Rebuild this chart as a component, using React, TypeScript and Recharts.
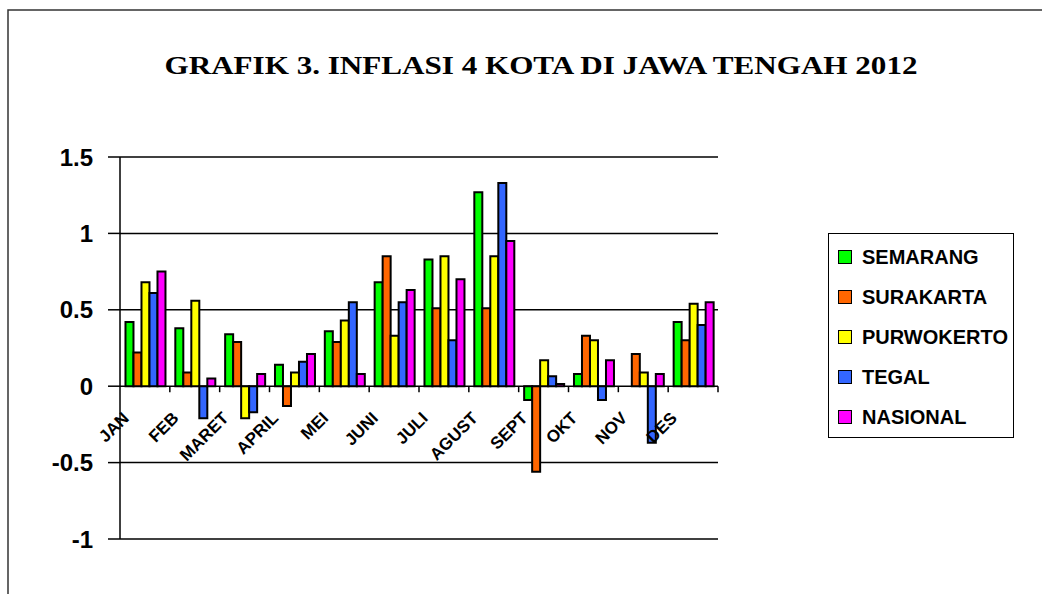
import React from "react";
import {
  BarChart,
  Bar,
  XAxis,
  YAxis,
  CartesianGrid,
  Legend,
} from "recharts";

const months = ["JAN", "FEB", "MARET", "APRIL", "MEI", "JUNI", "JULI", "AGUST", "SEPT", "OKT", "NOV", "DES"];
const semarang = [0.42, 0.38, 0.34, 0.14, 0.36, 0.68, 0.83, 1.27, -0.09, 0.08, 0, 0.42];
const surakarta = [0.22, 0.09, 0.29, -0.13, 0.29, 0.85, 0.51, 0.51, -0.56, 0.33, 0.21, 0.3];
const purwokerto = [0.68, 0.56, -0.21, 0.09, 0.43, 0.33, 0.85, 0.85, 0.17, 0.3, 0.09, 0.54];
const tegal = [0.61, -0.21, -0.17, 0.16, 0.55, 0.55, 0.3, 1.33, 0.065, -0.09, -0.37, 0.4];
const nasional = [0.75, 0.05, 0.08, 0.21, 0.08, 0.63, 0.7, 0.95, 0.015, 0.17, 0.08, 0.55];
const yTicks = [-1, -0.5, 0, 0.5, 1, 1.5];

const seriesNames = ["SEMARANG", "SURAKARTA", "PURWOKERTO", "TEGAL", "NASIONAL"];
const seriesColors = ["#00ff00", "#ff6600", "#ffff00", "#3366ff", "#ff00ff"];

const data = months.map((m, i) => ({
  month: m,
  SEMARANG: semarang[i],
  SURAKARTA: surakarta[i],
  PURWOKERTO: purwokerto[i],
  TEGAL: tegal[i],
  NASIONAL: nasional[i],
}));

// chart geometry
const W = 1042;
const H = 594;
const PLOT_TOP = 157;
const PLOT_LEFT = 120;
const PLOT_RIGHT = 718;
const PLOT_BOTTOM = 539;
const Y_MIN = -1;
const Y_MAX = 1.5;
const zeroY = PLOT_TOP + ((Y_MAX - 0) / (Y_MAX - Y_MIN)) * (PLOT_BOTTOM - PLOT_TOP);
const band = (PLOT_RIGHT - PLOT_LEFT) / months.length;

const sans = "'Liberation Sans', Arial, sans-serif";

function MonthTick(props: any) {
  const { x, payload } = props;
  const px = x - 15;
  const py = zeroY + 33;
  return (
    <g>
      <line x1={x + band / 2} y1={zeroY} x2={x + band / 2} y2={zeroY + 6} stroke="#000" strokeWidth={1.5} />
      <text
        x={px}
        y={py}
        textAnchor="end"
        transform={`rotate(-45, ${px}, ${py})`}
        fontFamily={sans}
        fontWeight="bold"
        fontSize={17}
        fill="#000"
      >
        {payload.value}
      </text>
    </g>
  );
}

function LegendBox() {
  return (
    <div
      style={{
        width: 186,
        height: 205,
        border: "1.5px solid #000",
        background: "#fff",
        boxSizing: "border-box",
        paddingTop: 3,
      }}
    >
      {seriesNames.map((name, i) => (
        <div
          key={name}
          style={{ display: "flex", alignItems: "center", height: 40, paddingLeft: 9 }}
        >
          <div
            style={{
              width: 12,
              height: 12,
              background: seriesColors[i],
              border: "1.5px solid #000",
              marginRight: 10,
            }}
          />
          <span style={{ fontFamily: sans, fontWeight: "bold", fontSize: 20, color: "#000", lineHeight: "20px" }}>
            {name}
          </span>
        </div>
      ))}
    </div>
  );
}

export default function App() {
  return (
    <div style={{ position: "absolute", left: 0, top: 0, width: W, height: H, background: "#fff", overflow: "hidden" }}>
      <BarChart
        width={W}
        height={H}
        data={data}
        margin={{ top: PLOT_TOP, right: W - PLOT_RIGHT, bottom: H - PLOT_BOTTOM - 1, left: 0 }}
        barCategoryGap="11%"
        barGap={0}
      >
        <rect x={8} y={10} width={1100} height={700} fill="none" stroke="#333" strokeWidth={1.5} />
        <text
          x={541}
          y={74}
          textAnchor="middle"
          fontFamily="'Liberation Serif', 'DejaVu Serif', serif"
          fontWeight="bold"
          fontSize={26}
          textLength={753}
          lengthAdjust="spacingAndGlyphs"
          fill="#000"
        >
          GRAFIK 3. INFLASI 4 KOTA DI JAWA TENGAH 2012
        </text>
        <CartesianGrid horizontal vertical={false} stroke="#000" strokeWidth={1.5} strokeOpacity={1} />
        <XAxis
          dataKey="month"
          height={1}
          axisLine={false}
          tickLine={false}
          interval={0}
          tick={<MonthTick />}
        />
        <YAxis
          width={PLOT_LEFT}
          domain={[Y_MIN, Y_MAX]}
          ticks={yTicks}
          allowDataOverflow
          axisLine={{ stroke: "#000", strokeWidth: 1.5 }}
          tickLine={{ stroke: "#000", strokeWidth: 1.5 }}
          tickSize={12}
          tickMargin={15}
          tick={{ fontFamily: sans, fontWeight: "bold", fontSize: 24, fill: "#000" }}
          tickFormatter={(v: number) => String(v)}
        />
        <Legend
          layout="vertical"
          align="center"
          verticalAlign="middle"
          content={<LegendBox />}
          wrapperStyle={{ position: "absolute", left: 828, top: 233, width: 186, bottom: "auto", right: "auto" }}
        />
        {seriesNames.map((name, i) => (
          <Bar
            key={name}
            dataKey={name}
            fill={seriesColors[i]}
            stroke="#000"
            strokeWidth={2}
            isAnimationActive={false}
          />
        ))}
      </BarChart>
    </div>
  );
}
